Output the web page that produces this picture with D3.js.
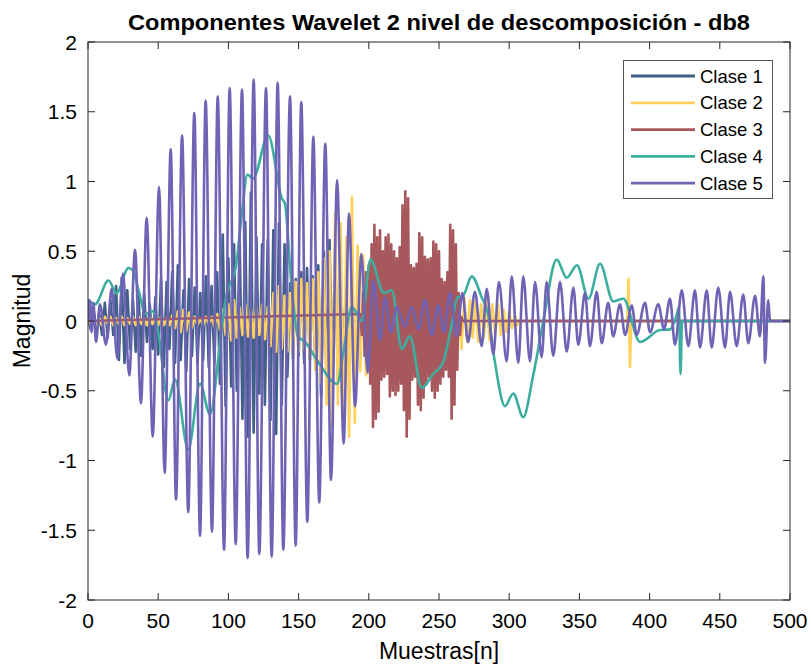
<!DOCTYPE html>
<html><head><meta charset="utf-8">
<script src="https://cdn.jsdelivr.net/npm/d3@7"></script>
<style>body{margin:0;background:#fff} svg text{font-family:"Liberation Sans",Arial,Helvetica,sans-serif;fill:#000}</style>
</head><body><svg id="c" width="811" height="667"></svg>
<script>
// ---------------- data ----------------
const categories = ["Clase 1","Clase 2","Clase 3","Clase 4","Clase 5"];
const xTicks = [0,50,100,150,200,250,300,350,400,450,500];
const yTicks = [-2,-1.5,-1,-0.5,0,0.5,1,1.5,2];
const yTickLabels = ["-2","-1.5","-1","-0.5","0","0.5","1","1.5","2"];

// Clase 1: values every 2 samples starting at sample 0
const c1Step = 2;
const c1Values = [0.02,-0.06,0.08,-0.07,0.05,-0.1,0.13,-0.12,0.15,-0.1,
 0.25,-0.28,0.31,-0.3,0.22,-0.2,0.15,-0.22,0.18,-0.25,
 0.2,-0.15,0.12,-0.2,0.17,-0.24,0.3,-0.33,0.28,-0.2,
 0.35,-0.3,0.4,-0.28,0.22,-0.36,0.3,-0.25,0.24,-0.3,
 0.2,-0.28,0.32,-0.33,0.25,-0.3,0.35,-0.45,0.62,-0.61,
 0.45,-0.47,0.55,-0.5,0.6,-0.7,0.71,-0.83,0.92,-0.8,
 0.6,-0.52,0.55,-0.6,0.58,-0.71,0.65,-0.81,0.7,-0.6,
 0.55,-0.4,0.27,-0.27,0.3,-0.25,0.35,-0.3,0.38,-0.28,
 0.32,-0.35,0.4,-0.54,0.5,-0.45,0.58,-0.5,0.53,-0.4,
 0.3,-0.2,0.05,0];

// Clase 2: values every 2 samples starting at sample 0, plus a late spike
const c2Step = 2;
const c2Values = [0,-0.02,0.03,-0.03,0.02,-0.03,0.03,-0.02,0.03,-0.03,
 0.02,-0.02,0.03,-0.03,0.02,-0.02,0.03,-0.03,0.03,-0.02,
 0.02,-0.03,0.03,-0.02,0.02,-0.03,0.03,-0.03,0.02,-0.03,
 0.04,-0.05,0.07,-0.08,0.08,-0.07,0.06,-0.05,0.03,-0.03,
 0.02,-0.03,0.03,-0.02,0.03,-0.04,0.05,-0.06,0.08,-0.1,
 0.12,-0.14,0.15,-0.12,0.1,-0.1,0.12,-0.11,0.09,-0.12,
 0.1,-0.1,0.12,-0.13,0.1,-0.18,0.2,-0.22,0.25,-0.2,
 0.18,-0.22,0.2,-0.25,0.28,-0.22,0.3,-0.2,0.27,-0.28,
 0.3,-0.35,0.35,-0.45,0.45,-0.6,0.5,-0.76,0.77,-0.6,
 0.7,-0.7,0.6,-0.83,0.89,-0.73,0.54,-0.36,0.47,-0.39,
 0.4,-0.35,0.39,-0.37,0.35,-0.3,0.32,-0.28,0.3,-0.25,
 0.28,-0.22,0.25,-0.25,0.2,-0.2,0.22,-0.18,0.2,-0.2,
 0.18,-0.2,0.15,-0.15,0.2,-0.22,0.18,-0.15,0.15,-0.18,
 0.2,-0.2,0.15,-0.2,0.17,-0.15,0.15,-0.12,0.14,-0.15,
 0.12,-0.12,0.15,-0.14,0.12,-0.1,0.12,-0.1,0.08,-0.08,
 0.07,-0.05,0.04,-0.03,0.01,0];
const c2SpikeSamples = [384,385,386,387,500];
const c2SpikeValues = [0,0.3,-0.33,0,0];

// Clase 3: one value per sample starting at sample 194 (zero elsewhere)
const c3Start = 194;
const c3Values = [0.05,-0.1,0.2,-0.25,0.35,-0.3,0.4,-0.45,0.55,-0.76,
 0.69,-0.7,0.6,-0.65,0.65,-0.42,0.5,-0.4,0.6,-0.38,
 0.62,-0.54,0.55,-0.5,0.5,-0.53,0.45,-0.5,0.53,-0.45,
 0.83,-0.64,0.93,-0.83,0.88,-0.7,0.4,-0.42,0.38,-0.4,
 0.41,-0.6,0.63,-0.64,0.6,-0.55,0.46,-0.45,0.44,-0.4,
 0.45,-0.5,0.57,-0.55,0.55,-0.5,0.5,-0.45,0.3,-0.4,
 0.28,-0.35,0.35,-0.4,0.69,-0.7,0.65,-0.6,0.55,-0.35,
 0.2,-0.1,0.03,0];

// Clase 4: turning points (sample, value)
const c4Samples = [0,5,14.6,20.3,28.8,32,36,41,46,50,
 57.2,62,71.4,79.8,86.9,94,97.6,105.8,109.7,113.6,
 117.5,128.4,138,140.3,144.6,149.6,154.6,163.1,177.4,181.8,
 187.8,191.4,195,201.2,210.8,216.3,223.6,229.3,237.7,245.9,
 252.8,257.8,263.2,267.1,273.3,280.4,284.9,289.9,297,302.9,
 310,316.9,324.3,333.8,341,348.3,356.5,364.7,374.1,381.3,
 393.2,407.4,414.5,419.5,420.9,422,423.1,500];
const c4Values = [0.15,0.12,0.29,0.20,0.38,0.36,0.22,0.05,0.07,-0.08,
 -0.57,-0.42,-0.92,-0.45,-0.67,-0.16,0.13,0.42,0.78,1.05,
 1.02,1.33,0.88,0.84,0.30,-0.11,-0.15,-0.28,-0.45,-0.23,
 0.10,0.055,0.0,0.44,0.20,0.22,-0.20,-0.11,-0.48,-0.38,
 -0.30,-0.09,0.17,0.18,0.32,0.17,0.05,-0.30,-0.61,-0.52,
 -0.69,-0.40,0.0,0.44,0.31,0.40,0.16,0.41,0.14,0.16,
 -0.15,-0.065,-0.06,0.05,0.10,-0.38,0.0,0.0];

// Clase 5: turning points (sample, value)
const c5Samples = [0,1.2,2.5,3.8,5.7,8.5,12.8,16.9,20.9,24.9,
 29.4,33.5,37.7,41.8,46.1,50.6,54.6,58.9,62.7,67.0,
 71.4,75.7,79.8,83.8,88.3,92.4,96.9,100.9,105.2,109.7,
 113.7,118.0,122.0,126.8,130.8,135.1,139.1,143.9,147.9,151.9,
 156.2,160.5,164.7,169.0,173.1,177.4,182.1,185.9,190.2,194.7,
 199.2,203.2,208.0,211.5,215.8,219.9,225.8,230.6,235.3,240.0,
 244.8,249.5,253.6,257.8,262.6,266.7,270.7,275.6,280.4,284.0,
 288.7,292.7,298.2,301.8,306.5,310.0,314.8,318.4,323.1,326.7,
 331.4,336.2,341.0,345.7,349.2,354.0,357.5,362.3,365.9,370.5,
 374.1,378.9,382.5,387.3,390.8,396.7,400.3,406.2,410.3,414.5,
 418.1,422.9,427.6,432.3,435.9,440.7,444.2,448.9,453.7,457.3,
 462.0,466.7,470.3,475.1,478.6,481.0,482.2,484.5,485.8,500];
const c5Values = [0.02,0.15,-0.08,0.13,-0.15,0.12,-0.17,0.23,-0.27,0.34,
 -0.39,0.51,-0.59,0.74,-0.83,0.96,-1.09,1.23,-1.28,1.33,
 -1.37,1.49,-1.54,1.58,-1.51,1.61,-1.64,1.67,-1.60,1.66,
 -1.70,1.73,-1.67,1.67,-1.69,1.71,-1.64,1.61,-1.61,1.57,
 -1.44,1.32,-1.30,1.27,-1.14,1.01,-0.88,0.77,-0.61,0.48,
 -0.37,0.29,-0.14,0.17,-0.08,0.10,-0.04,0.10,-0.06,0.15,
 -0.10,0.11,-0.08,0.20,-0.11,0.20,-0.15,0.21,-0.18,0.23,
 -0.24,0.28,-0.29,0.32,-0.30,0.32,-0.29,0.28,-0.26,0.28,
 -0.25,0.28,-0.22,0.24,-0.17,0.20,-0.18,0.21,-0.16,0.13,
 -0.11,0.12,-0.10,0.11,-0.10,0.13,-0.08,0.12,-0.06,0.16,
 -0.17,0.22,-0.18,0.22,-0.19,0.22,-0.19,0.24,-0.19,0.21,
 -0.18,0.19,-0.16,0.18,-0.11,0.32,-0.30,0.15,0.0,0.0];

const colors = ["#3F6087","#FFD25C","#A7585D","#3BAE9F","#6F63B6"];

// ---------------- build series ----------------
const s1 = c1Values.map((v,i)=>[i*c1Step,v]).concat([[500,0]]);
const s2 = c2Values.map((v,i)=>[i*c2Step,v]).concat(c2SpikeSamples.map((s,i)=>[s,c2SpikeValues[i]]));
const s3 = [[0,0]].concat(c3Values.map((v,i)=>[c3Start+i,v])).concat([[500,0]]);
const s4 = c4Samples.map((s,i)=>[s,c4Values[i]]);
const s5 = c5Samples.map((s,i)=>[s,c5Values[i]]);

// ---------------- chart ----------------
const svg = d3.select("#c");
const L=88,R=790,T=42,B=600;
const x = d3.scaleLinear().domain([0,500]).range([L,R]);
const y = d3.scaleLinear().domain([-2,2]).range([B,T]);
const axisColor = "#262626";

svg.append("defs").append("clipPath").attr("id","clip")
  .append("rect").attr("x",L).attr("y",T).attr("width",R-L).attr("height",B-T);

const g = svg.append("g").attr("clip-path","url(#clip)");
const lineLin = d3.line().x(d=>x(d[0])).y(d=>y(d[1]));
const lineSmooth = d3.line().x(d=>x(d[0])).y(d=>y(d[1])).curve(d3.curveMonotoneX);
const series = [
  {d:s1, gen:lineLin},
  {d:s2, gen:lineLin},
  {d:s3, gen:lineLin},
  {d:s4, gen:lineSmooth},
  {d:s5, gen:lineSmooth}
];
series.forEach((s,i)=>{
  g.append("path").attr("d",s.gen(s.d)).attr("fill","none")
   .attr("stroke",colors[i]).attr("stroke-width",2.6)
   .attr("stroke-linejoin","round").attr("stroke-linecap","round");
});

// axes (box with inward ticks on all sides)
const tl = 7;
const ax = svg.append("g").attr("stroke",axisColor).attr("stroke-width",1).attr("fill","none");
ax.append("rect").attr("x",L).attr("y",T).attr("width",R-L).attr("height",B-T);
xTicks.forEach(t=>{
  ax.append("line").attr("x1",x(t)).attr("x2",x(t)).attr("y1",B).attr("y2",B-tl);
  ax.append("line").attr("x1",x(t)).attr("x2",x(t)).attr("y1",T).attr("y2",T+tl);
});
yTicks.forEach(t=>{
  ax.append("line").attr("y1",y(t)).attr("y2",y(t)).attr("x1",L).attr("x2",L+tl);
  ax.append("line").attr("y1",y(t)).attr("y2",y(t)).attr("x1",R).attr("x2",R-tl);
});
xTicks.forEach(t=>{
  svg.append("text").attr("x",x(t)).attr("y",B+28).attr("text-anchor","middle")
    .attr("font-size",21).text(t);
});
yTicks.forEach((t,i)=>{
  svg.append("text").attr("x",L-11).attr("y",y(t)+7.5).attr("text-anchor","end")
    .attr("font-size",21).text(yTickLabels[i]);
});

svg.append("text").attr("x",(L+R)/2).attr("y",659).attr("text-anchor","middle")
  .attr("font-size",23).text("Muestras[n]");
svg.append("text").attr("transform",`translate(30,${(T+B)/2}) rotate(-90)`)
  .attr("text-anchor","middle").attr("font-size",23).text("Magnitud");
svg.append("text").attr("x",(L+R)/2).attr("y",30).attr("text-anchor","middle")
  .attr("font-size",22).attr("font-weight","bold")
  .attr("textLength",622).attr("lengthAdjust","spacingAndGlyphs")
  .text("Componentes Wavelet 2 nivel de descomposición - db8");

// legend
const lg = svg.append("g");
lg.append("rect").attr("x",623.5).attr("y",60.5).attr("width",149).attr("height",138)
  .attr("fill","#fff").attr("stroke","#555").attr("stroke-width",1);
categories.forEach((c,i)=>{
  const yy = 76 + i*26.8;
  lg.append("line").attr("x1",631).attr("x2",695).attr("y1",yy).attr("y2",yy)
    .attr("stroke",colors[i]).attr("stroke-width",2.8);
  lg.append("text").attr("x",700).attr("y",yy+6.5).attr("font-size",18.5).text(c);
});
</script></body></html>
